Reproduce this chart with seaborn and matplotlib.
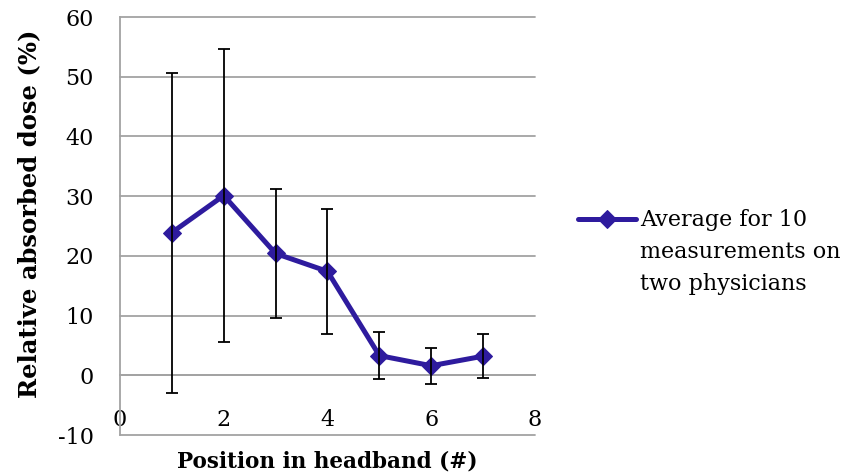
import numpy as np
import pandas as pd
import matplotlib
matplotlib.use('Agg')
import matplotlib.pyplot as plt
from matplotlib.legend_handler import HandlerLine2D
import seaborn as sns

# Data
positions = [1, 2, 3, 4, 5, 6, 7]
mean_dose = [23.9, 30.1, 20.4, 17.4, 3.3, 1.6, 3.2]
dose_err = [26.8, 24.6, 10.8, 10.5, 3.9, 3.0, 3.7]
x_ticks = [0, 2, 4, 6, 8]
y_ticks = [-10, 0, 10, 20, 30, 40, 50, 60]
legend_label = 'Average for 10\nmeasurements on\ntwo physicians'

line_color = '#2E1B9E'
grid_color = '#A3A3A3'

sns.set_style('white')
plt.rcParams['font.family'] = ['DejaVu Serif']
plt.rcParams['axes.unicode_minus'] = False
plt.rcParams['text.color'] = 'black'
plt.rcParams['xtick.labelcolor'] = 'black'
plt.rcParams['ytick.labelcolor'] = 'black'
plt.rcParams['axes.labelcolor'] = 'black'

df = pd.DataFrame({'Position': positions, 'Dose': mean_dose})

fig, ax = plt.subplots(figsize=(8.46, 4.75), dpi=100)
fig.subplots_adjust(left=0.1418, right=0.6324, bottom=0.0842, top=0.9642)

sns.lineplot(data=df, x='Position', y='Dose', ax=ax, color=line_color,
             linewidth=3.6, marker='D', markersize=9.5,
             markeredgecolor=line_color, label=legend_label, zorder=3)
ax.errorbar(positions, mean_dose, yerr=dose_err, fmt='none', ecolor='black',
            elinewidth=1.3, capsize=4.5, capthick=1.3, zorder=4)

ax.set_xlim(0, 8)
ax.set_ylim(-10, 60)
ax.set_xticks(x_ticks)
ax.set_yticks(y_ticks)
ax.grid(axis='y', color=grid_color, linewidth=1.3)
ax.set_axisbelow(True)
for gl in ax.get_ygridlines():
    gl.set_clip_on(False)

for s in ['top', 'right']:
    ax.spines[s].set_visible(False)
ax.spines['bottom'].set_position(('data', 0))
ax.spines['bottom'].set_color(grid_color)
ax.spines['left'].set_color(grid_color)
ax.spines['bottom'].set_linewidth(1.3)
ax.spines['left'].set_linewidth(1.3)

ax.tick_params(axis='y', length=6, width=1.3, color=grid_color, pad=13, labelsize=16)
ax.tick_params(axis='x', length=5, width=1.3, color=grid_color, pad=19, labelsize=16)

ax.set_xlabel('Position in headband (#)', fontsize=15.5, fontweight='bold')
ax.set_ylabel('Relative absorbed dose (%)', fontsize=17.5, fontweight='bold')
ax.xaxis.set_label_coords(0.5, -0.036)
ax.yaxis.set_label_coords(-0.19, 0.53)


# legend handle sits at the first text line, like Excel
class FirstLineHandler(HandlerLine2D):
    def create_artists(self, legend, orig_handle, xdescent, ydescent,
                       width, height, fontsize, trans):
        arts = super().create_artists(legend, orig_handle, xdescent, ydescent,
                                      width, height, fontsize, trans)
        for a in arts:
            a.set_ydata(np.asarray(a.get_ydata()) + 24)
        return arts


handles, labels = ax.get_legend_handles_labels()
leg = ax.legend(handles, labels, loc='center left', bbox_to_anchor=(1.104, 0.438),
                frameon=False, fontsize=16, handlelength=2.6, handletextpad=0.2,
                borderpad=0, borderaxespad=0,
                handler_map={handles[0]: FirstLineHandler()})
for t in leg.get_texts():
    t.set_linespacing(1.6)

fig.savefig('out.png', dpi=100)
